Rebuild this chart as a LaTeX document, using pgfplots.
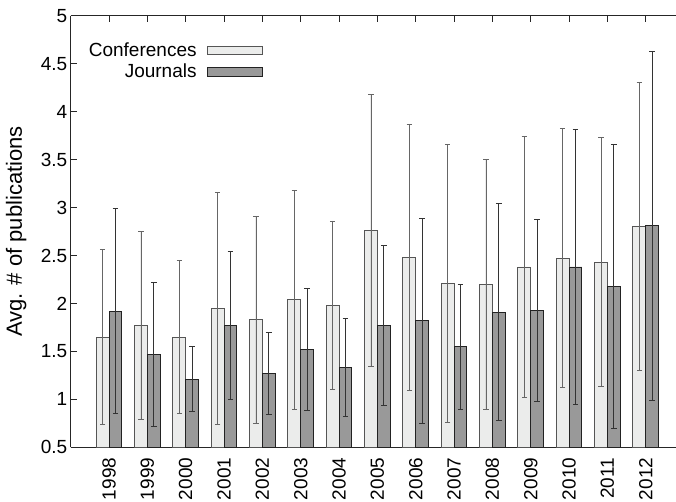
\documentclass[border=0pt]{standalone}
\usepackage{fontspec}
\setmainfont{Liberation Sans}
\usepackage{pgfplots}
\usepackage{pgfplotstable}
\pgfplotsset{compat=1.18}
\definecolor{confc}{HTML}{EBECEB}
\definecolor{confe}{HTML}{555555}
\definecolor{jourc}{HTML}{999999}
\definecolor{joure}{HTML}{222222}
\pgfplotstableread{
x year c ce j je
0 1998 1.65 0.91 1.92 1.07
1 1999 1.77 0.98 1.47 0.75
2 2000 1.65 0.80 1.21 0.34
3 2001 1.95 1.21 1.77 0.77
4 2002 1.83 1.08 1.27 0.43
5 2003 2.04 1.14 1.52 0.64
6 2004 1.98 0.88 1.33 0.51
7 2005 2.76 1.42 1.77 0.83
8 2006 2.48 1.39 1.82 1.07
9 2007 2.21 1.45 1.55 0.65
10 2008 2.20 1.30 1.91 1.13
11 2009 2.38 1.36 1.93 0.95
12 2010 2.47 1.35 2.38 1.43
13 2011 2.43 1.30 2.18 1.48
14 2012 2.80 1.50 2.81 1.82
}\datatable
\begin{document}
\begin{tikzpicture}
\begin{axis}[
  name=ax,
  scale only axis,
  width=605.3pt, height=431.6pt,
  xmin=-1, xmax=14.79,
  ymin=0.5, ymax=5,
  ybar=0pt, bar width=0.3333,
  ytick={0.5,1,...,5},
  xtick={0,...,14},
  xticklabels={1998,1999,2000,2001,2002,2003,2004,2005,2006,2007,2008,2009,2010,2011,2012},
  axis y line*=left,
  axis line style={black!85, line width=0.9pt},
  major tick style={black!85, line width=0.9pt},
  major tick length=6.5pt,
  tick align=inside,
  xticklabel style={rotate=90, anchor=east, font=\fontsize{19}{19}\selectfont},
  xticklabel shift=7pt,
  yticklabel style={font=\fontsize{19}{19}\selectfont},
  /pgf/number format/assume math mode=true,
  ylabel={Avg. \# of publications},
  ylabel style={at={(axis description cs:-0.0805,0.5)}, anchor=base, rotate=0, font=\fontsize{22}{22}\selectfont},
  legend cell align=right,
  legend plot pos=right,
  legend style={draw=none, fill=none, at={(axis description cs:0.3172,0.942)}, anchor=north east, inner sep=0pt, row sep=2pt, column sep=8pt,
    nodes={inner sep=2pt, font=\fontsize{19}{19}\selectfont}},
  legend image code/.code={\draw[#1] (0pt,-4.3pt) rectangle (55pt,4.3pt);},
]
\addplot[fill=confc, draw=confe, line width=0.9pt,
  error bars/.cd, y dir=both, y explicit,
  error bar style={color=black!60, line width=0.8pt},
  error mark=|,
  error mark options={draw=black!60, line width=0.8pt, mark size=2.8pt}]
  table[x=x, y=c, y error=ce] {\datatable};
\addlegendentry{Conferences}
\addplot[fill=jourc, draw=joure, line width=0.9pt,
  error bars/.cd, y dir=both, y explicit,
  error bar style={color=black!80, line width=0.8pt},
  error mark=|,
  error mark options={draw=black!80, line width=0.8pt, mark size=2.8pt}]
  table[x=x, y=j, y error=je] {\datatable};
\addlegendentry{Journals}
\end{axis}
\pgfresetboundingbox
\path[use as bounding box] ([xshift=-70.7pt,yshift=-53.7pt]ax.south west) rectangle ([yshift=15.7pt]ax.north east);
\end{tikzpicture}
\end{document}
